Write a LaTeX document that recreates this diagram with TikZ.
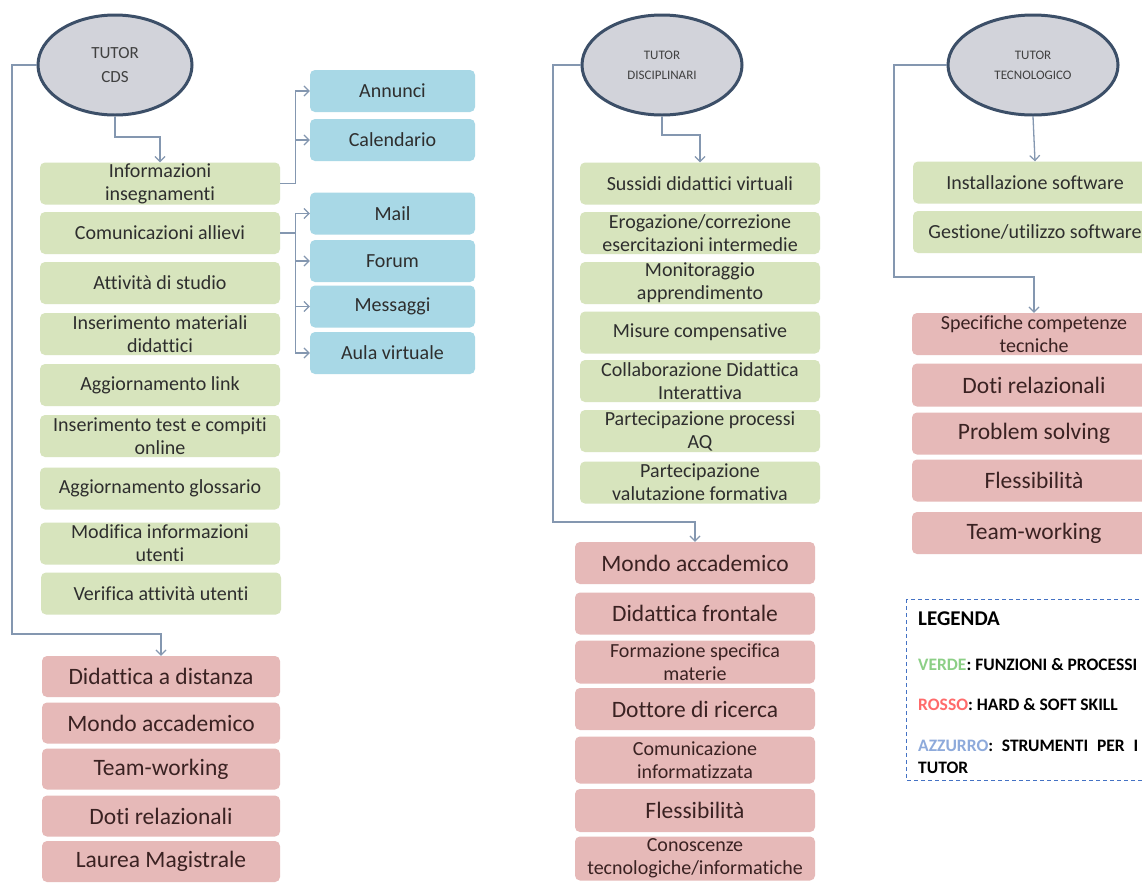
\documentclass[tikz,border=0pt]{standalone}
\usepackage{fontspec}
\setmainfont{Carlito}[Ligatures=NoCommon]
\usetikzlibrary{arrows.meta,shapes.geometric}
\definecolor{gfill}{HTML}{D7E4BD}
\definecolor{rfill}{HTML}{E6B9B8}
\definecolor{bfill}{HTML}{A8D8E6}
\definecolor{efill}{HTML}{D2D3DA}
\definecolor{edraw}{HTML}{3C4F68}
\definecolor{conncol}{HTML}{8497B0}
\definecolor{txtg}{HTML}{2E2E2E}
\definecolor{txtr}{HTML}{3A2222}
\definecolor{legblue}{HTML}{4472C4}
\definecolor{lgreen}{HTML}{8CCF86}
\definecolor{lred}{HTML}{FF6B6B}
\definecolor{lazz}{HTML}{8EAADB}
\tikzset{
  base/.style={rectangle, rounded corners=5pt, draw=none, align=center, inner sep=0pt},
  gbox/.style={base, fill=gfill, text=txtg, font=\fontsize{20}{23}\selectfont},
  rbox/.style={base, fill=rfill, text=txtr, font=\fontsize{23.5}{27}\selectfont},
  rsmall/.style={base, fill=rfill, text=txtr, font=\fontsize{20}{23}\selectfont},
  bbox/.style={base, fill=bfill, text=txtg, font=\fontsize{20}{23}\selectfont, minimum width=165pt, minimum height=42pt},
  tutor/.style={ellipse, fill=efill, draw=edraw, line width=3pt, inner sep=0pt, align=center, text=black!75},
  conn/.style={draw=conncol, line width=1.3pt},
  arr/.style={conn, -{Straight Barb[length=5pt,width=10pt,line width=1.2pt]}},
  leg/.style={anchor=base west, inner sep=0pt, font=\fontsize{17.5}{20}\selectfont\bfseries},
  colL/.style={minimum width=240pt, minimum height=42pt},
  colLr/.style={minimum width=238pt, minimum height=41pt},
  colM/.style={minimum width=240pt, minimum height=42pt},
  colR/.style={minimum width=244pt, minimum height=42pt}
}
\begin{document}
\begin{tikzpicture}[x=1pt,y=-1pt]
\useasboundingbox (0,0) rectangle (1142,884);
\fill[white] (0,0) rectangle (1142,884);

% ---------- Column 1: TUTOR CDS ----------
\node[tutor, minimum width=154pt, minimum height=100pt, font=\fontsize{17}{24}\selectfont] (cds) at (115,65) {TUTOR\\CDS};

\node[gbox,colL] (l1) at (160,183.5) {Informazioni\\insegnamenti};
\node[gbox,colL] (l2) at (160,233) {Comunicazioni allievi};
\node[gbox,colL] (l3) at (160,283) {Attività di studio};
\node[gbox,colL] (l4) at (160,334) {Inserimento materiali\\didattici};
\node[gbox,colL] (l5) at (160,385) {Aggiornamento link};
\node[gbox,colL] (l6) at (160,436) {Inserimento test e compiti\\online};
\node[gbox,colL] (l7) at (160,488.5) {Aggiornamento glossario};
\node[gbox,colL] (l8) at (160,543.5) {Modifica informazioni\\utenti};
\node[gbox,colL] (l9) at (161,593.5) {Verifica attività utenti};

\node[rbox,colLr] (r1) at (161,676.5) {Didattica a distanza};
\node[rbox,colLr] (r2) at (161,723) {Mondo accademico};
\node[rbox,colLr] (r3) at (161,769) {Team-working};
\node[rbox,colLr] (r4) at (161,816) {Doti relazionali};
\node[rbox,colLr] (r5) at (161,861.5) {Laurea Magistrale};

\node[bbox] (b1) at (392.5,91) {Annunci};
\node[bbox] (b2) at (392.5,140) {Calendario};
\node[bbox] (b3) at (392.5,213.5) {Mail};
\node[bbox] (b4) at (392.5,261) {Forum};
\node[bbox] (b5) at (392.5,306.5) {Messaggi};
\node[bbox] (b6) at (392.5,353) {Aula virtuale};

\coordinate (cA) at (12,634);
\coordinate (cB) at (160,137);
\draw[arr] (cds.west) -| (cA) -| (r1.north);
\draw[arr] (cds.south) |- (cB) -- (l1.north);
\draw[arr] (l1.east) -- ++(15,0) |- (b1.west);
\draw[arr] (l1.east) -- ++(15,0) |- (b2.west);
\draw[arr] (l2.east) -- ++(15,0) |- (b3.west);
\draw[arr] (l2.east) -- ++(15,0) |- (b4.west);
\draw[arr] (l2.east) -- ++(15,0) |- (b5.west);
\draw[arr] (l2.east) -- ++(15,0) |- (b6.west);

% ---------- Column 2: TUTOR DISCIPLINARI ----------
\node[tutor, minimum width=160pt, minimum height=100pt, font=\fontsize{13}{20}\selectfont] (dis) at (662,65) {TUTOR\\DISCIPLINARI};

\node[gbox,colM] (m1) at (700,183.5) {Sussidi didattici virtuali};
\node[gbox,colM] (m2) at (700,233) {Erogazione/correzione\\esercitazioni intermedie};
\node[gbox,colM] (m3) at (700,283) {Monitoraggio\\apprendimento};
\node[gbox,colM] (m4) at (700,332.5) {Misure compensative};
\node[gbox,colM] (m5) at (700,381) {Collaborazione Didattica\\Interattiva};
\node[gbox,colM] (m6) at (700,431) {Partecipazione processi\\AQ};
\node[gbox,colM] (m7) at (700,482.5) {Partecipazione\\valutazione formativa};

\node[rbox,colM] (n1) at (695,563) {Mondo accademico};
\node[rbox,colM] (n2) at (695,613.5) {Didattica frontale};
\node[rsmall,colM,minimum height=43pt] (n3) at (695,662) {Formazione specifica\\materie};
\node[rbox,colM] (n4) at (695,709) {Dottore di ricerca};
\node[rsmall,colM,minimum height=47pt] (n5) at (695,760) {Comunicazione\\informatizzata};
\node[rbox,colM,minimum height=43pt] (n6) at (695,810.5) {Flessibilità};
\node[rsmall,colM,minimum height=44pt] (n7) at (695,858.5) {Conoscenze\\tecnologiche/informatiche};

\coordinate (dA) at (553,522);
\coordinate (dB) at (700,135);
\draw[arr] (dis.west) -| (dA) -| (n1.north);
\draw[arr] (dis.south) |- (dB) -- (m1.north);

% ---------- Column 3: TUTOR TECNOLOGICO ----------
\node[tutor, minimum width=170pt, minimum height=100pt, font=\fontsize{13}{20}\selectfont] (tec) at (1033,65) {TUTOR\\TECNOLOGICO};

\node[gbox,colR] (t1) at (1035,182.5) {Installazione software};
\node[gbox,colR] (t2) at (1035,232) {Gestione/utilizzo software};

\node[rsmall,colR] (s1) at (1034,334) {Specifiche competenze\\tecniche};
\node[rbox,colR,minimum height=43pt] (s2) at (1034,385) {Doti relazionali};
\node[rbox,colR] (s3) at (1034,433.5) {Problem solving};
\node[rbox,colR] (s4) at (1034,480.5) {Flessibilità};
\node[rbox,colR] (s5) at (1034,533) {Team-working};

\coordinate (tA) at (894,277);
\draw[arr] (tec.west) -| (tA) -| (s1.north);
\draw[arr] (tec.south) -- (t1.north);

% ---------- Legend ----------
\draw[legblue, line width=0.9pt, dash pattern=on 4pt off 3pt] (906,599) rectangle (1160,780);
\node[leg, font=\fontsize{21}{24}\selectfont\bfseries] (lg0) at (918,625) {LEGENDA};
\node[leg] (lg1) at (918,670) {\textcolor{lgreen}{VERDE}: FUNZIONI \& PROCESSI};
\node[leg] (lg2) at (918,710) {\textcolor{lred}{ROSSO}: HARD \& SOFT SKILL};
\node[leg] (lg3) at (918,751) {\makebox[220pt][s]{\textcolor{lazz}{AZZURRO}: STRUMENTI PER I}};
\node[leg] (lg4) at (918,773) {TUTOR};
\end{tikzpicture}
\end{document}
